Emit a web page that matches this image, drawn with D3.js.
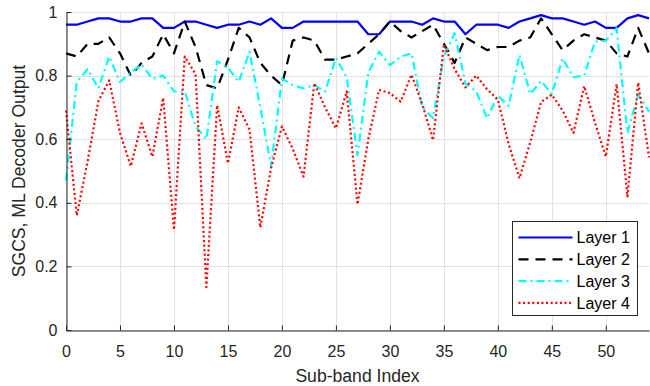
<!DOCTYPE html>
<html>
<head>
<meta charset="utf-8">
<script src="https://cdn.jsdelivr.net/npm/d3@7"></script>
<style>
  html, body { margin: 0; padding: 0; background: #fff; }
  svg { display: block; font-family: "Liberation Sans", Arial, Helvetica, sans-serif; }
</style>
</head>
<body>
<svg id="chart" width="650" height="386"></svg>
<script>
// sub-band index 0..54
const subBands = d3.range(0, 55);

const layer1 = [0.96, 0.96, 0.97, 0.98, 0.98, 0.97, 0.97, 0.98, 0.98, 0.95,
  0.95, 0.97, 0.97, 0.96, 0.95, 0.96, 0.96, 0.97, 0.96, 0.98,
  0.95, 0.95, 0.97, 0.97, 0.97, 0.97, 0.97, 0.97, 0.93, 0.93,
  0.97, 0.97, 0.97, 0.96, 0.98, 0.97, 0.97, 0.93, 0.96, 0.96,
  0.96, 0.95, 0.97, 0.98, 0.99, 0.98, 0.98, 0.97, 0.96, 0.97,
  0.95, 0.95, 0.98, 0.99, 0.98];

const layer2 = [0.87, 0.86, 0.90, 0.90, 0.92, 0.87, 0.80, 0.84, 0.86, 0.93,
  0.87, 0.97, 0.89, 0.77, 0.76, 0.85, 0.95, 0.92, 0.84, 0.80,
  0.77, 0.91, 0.92, 0.91, 0.85, 0.85, 0.86, 0.87, 0.90, 0.93,
  0.97, 0.94, 0.92, 0.94, 0.96, 0.90, 0.84, 0.92, 0.90, 0.88,
  0.89, 0.89, 0.91, 0.92, 0.98, 0.93, 0.88, 0.91, 0.93, 0.92,
  0.91, 0.87, 0.86, 0.95, 0.87];

const layer3 = [0.47, 0.78, 0.82, 0.76, 0.86, 0.78, 0.81, 0.835, 0.79, 0.80,
  0.75, 0.75, 0.64, 0.60, 0.845, 0.825, 0.78, 0.875, 0.70, 0.515,
  0.79, 0.77, 0.76, 0.77, 0.75, 0.855, 0.795, 0.55, 0.81, 0.875,
  0.833, 0.86, 0.87, 0.70, 0.666, 0.86, 0.933, 0.775, 0.75, 0.666,
  0.737, 0.705, 0.865, 0.742, 0.783, 0.742, 0.854, 0.795, 0.80, 0.907,
  0.91, 0.949, 0.62, 0.74, 0.687];

const layer4 = [0.69, 0.36, 0.53, 0.72, 0.785, 0.62, 0.515, 0.65, 0.545, 0.73,
  0.315, 0.86, 0.805, 0.135, 0.707, 0.524, 0.70, 0.63, 0.322, 0.51,
  0.64, 0.57, 0.482, 0.776, 0.70, 0.634, 0.75, 0.395, 0.60, 0.755,
  0.745, 0.718, 0.803, 0.71, 0.597, 0.898, 0.82, 0.763, 0.80, 0.757,
  0.725, 0.585, 0.477, 0.59, 0.717, 0.74, 0.69, 0.62, 0.767, 0.652,
  0.545, 0.773, 0.42, 0.778, 0.543];

const seriesNames = ["Layer 1", "Layer 2", "Layer 3", "Layer 4"];
const xTicks = [0, 5, 10, 15, 20, 25, 30, 35, 40, 45, 50];
const yTicks = [0, 0.2, 0.4, 0.6, 0.8, 1];

const styles = [
  { color: "#0000ff", dash: null },
  { color: "#000000", dash: "10,7" },
  { color: "#00ffff", dash: "8,4,2,4" },
  { color: "#ff0000", dash: "2,2.6" }
];

const svg = d3.select("#chart");
const margin = { left: 66, right: 1, top: 12, bottom: 56 };
const width = 650, height = 386;

const x = d3.scaleLinear().domain([0, 54]).range([margin.left, width - margin.right]);
const y = d3.scaleLinear().domain([0, 1]).range([height - margin.bottom, margin.top]);

// grid
const grid = svg.append("g").attr("stroke", "#e2e2e2").attr("stroke-width", 1);
grid.selectAll("line.v")
  .data(xTicks)
  .join("line")
  .attr("class", "v")
  .attr("x1", d => Math.round(x(d)) + 0.5)
  .attr("x2", d => Math.round(x(d)) + 0.5)
  .attr("y1", y(0))
  .attr("y2", y(1));
grid.selectAll("line.h")
  .data(yTicks)
  .join("line")
  .attr("class", "h")
  .attr("x1", x(0))
  .attr("x2", x(54))
  .attr("y1", d => Math.round(y(d)) + 0.5)
  .attr("y2", d => Math.round(y(d)) + 0.5);

// series
const allSeries = [layer1, layer2, layer3, layer4];
const line = d3.line()
  .x((d, i) => x(subBands[i]))
  .y(d => y(d));

svg.append("g")
  .selectAll("path")
  .data(allSeries)
  .join("path")
  .attr("fill", "none")
  .attr("stroke", (d, i) => styles[i].color)
  .attr("stroke-width", 2.2)
  .attr("stroke-dasharray", (d, i) => styles[i].dash)
  .attr("stroke-linejoin", "round")
  .attr("d", line);

// axes
const xAxis = svg.append("g")
  .attr("transform", `translate(0,${Math.round(y(0)) + 0.5})`)
  .call(d3.axisBottom(x).tickValues(xTicks).tickSizeInner(-5).tickSizeOuter(0).tickPadding(15));
const yAxis = svg.append("g")
  .attr("transform", `translate(${Math.round(x(0)) + 0.5},0)`)
  .call(d3.axisLeft(y).tickValues(yTicks).tickFormat(d3.format("~g")).tickSizeInner(-5).tickSizeOuter(0).tickPadding(9));

[xAxis, yAxis].forEach(a => {
  a.select(".domain").attr("stroke", "#262626").attr("stroke-width", 1);
  a.selectAll(".tick line").attr("stroke", "#262626");
  a.selectAll(".tick text")
    .attr("fill", "#262626")
    .attr("font-size", 16)
    .attr("font-family", "Liberation Sans, Arial, sans-serif");
});

// axis titles
svg.append("text")
  .attr("x", (x(0) + x(54)) / 2)
  .attr("y", 382)
  .attr("text-anchor", "middle")
  .attr("font-size", 17.6)
  .attr("fill", "#262626")
  .text("Sub-band Index");

svg.append("text")
  .attr("transform", `translate(25,${(y(0) + y(1)) / 2}) rotate(-90)`)
  .attr("text-anchor", "middle")
  .attr("font-size", 17.6)
  .attr("fill", "#262626")
  .text("SGCS, ML Decoder Output");

// legend
const legend = svg.append("g").attr("transform", "translate(512.5,221.5)");
legend.append("rect")
  .attr("width", 125)
  .attr("height", 94)
  .attr("fill", "#fff")
  .attr("stroke", "#262626")
  .attr("stroke-width", 1);

const rows = legend.selectAll("g.row")
  .data(seriesNames)
  .join("g")
  .attr("class", "row")
  .attr("transform", (d, i) => `translate(0,${16 + i * 21.8})`);
rows.append("line")
  .attr("x1", 6)
  .attr("x2", 60)
  .attr("stroke", (d, i) => styles[i].color)
  .attr("stroke-width", 2.2)
  .attr("stroke-dasharray", (d, i) => styles[i].dash);
rows.append("text")
  .attr("x", 64)
  .attr("dy", "0.36em")
  .attr("font-size", 16)
  .attr("fill", "#000")
  .text(d => d);
</script>
</body>
</html>
